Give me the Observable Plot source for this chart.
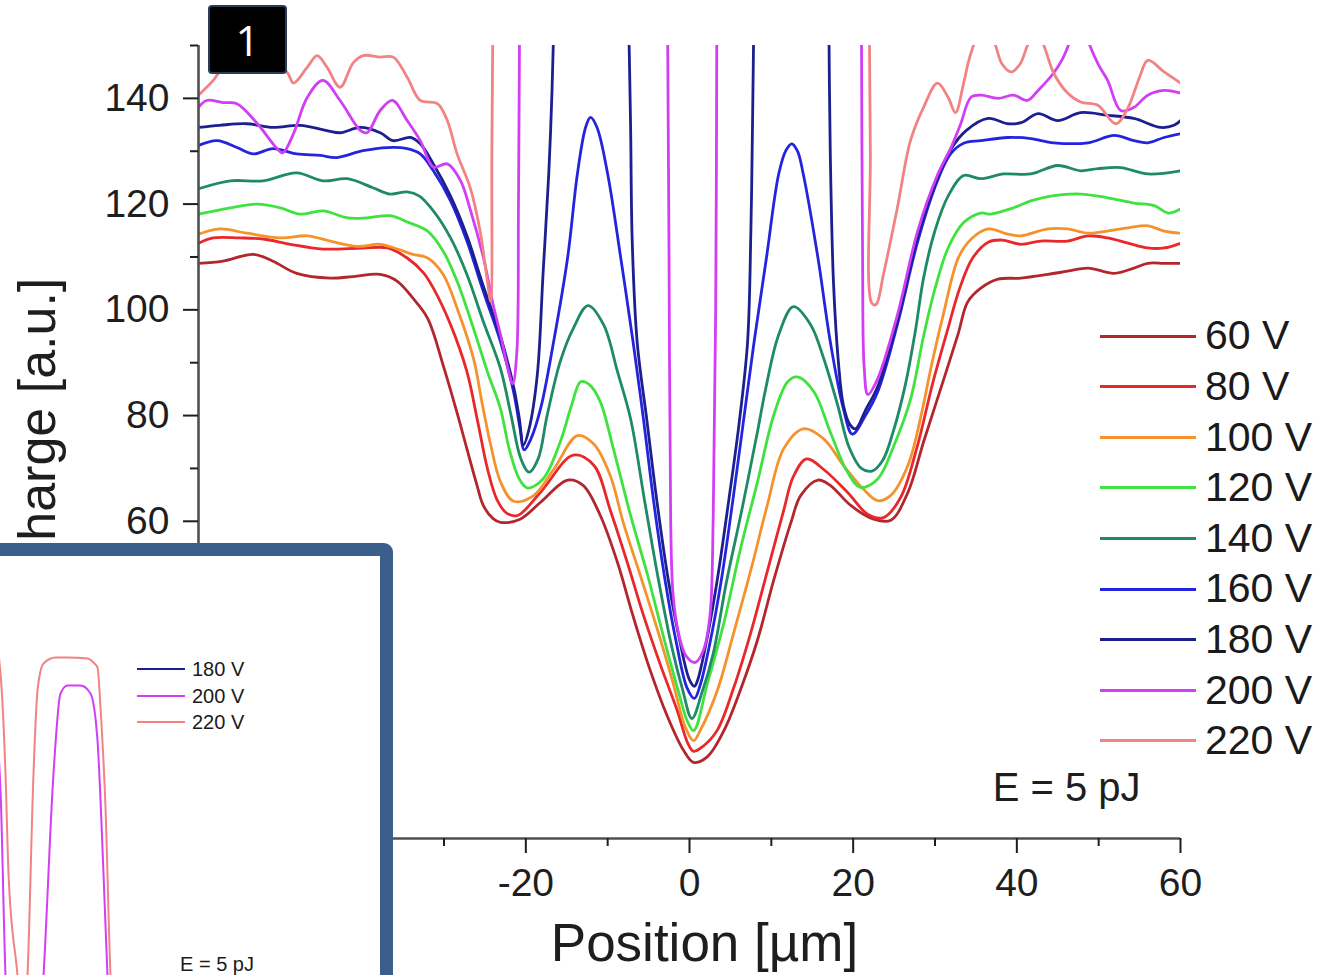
<!DOCTYPE html>
<html>
<head>
<meta charset="utf-8">
<script src="https://cdn.jsdelivr.net/npm/d3@7"></script>
<script src="https://cdn.jsdelivr.net/npm/@observablehq/plot@0.6"></script>
<style>
  html, body { margin: 0; padding: 0; background: #fff; }
  #page { position: relative; width: 1325px; height: 975px; overflow: hidden; font-family: "Liberation Sans", Arial, sans-serif; }
  #main { position: absolute; left: 0; top: 0; }
  #insetBox { position: absolute; left: -20px; top: 543px; width: 413px; height: 470px; box-sizing: border-box; border: 13px solid #3a5f8b; border-radius: 9px; background: #fff; }
  #inset { position: absolute; left: 0; top: 556px; }
  .legLine { position: absolute; }
  .legText { position: absolute; color: #1a1a1a; white-space: nowrap; }
  #badge { position: absolute; left: 208px; top: 5px; width: 79px; height: 69px; box-sizing: border-box; background: #000; border: 2px solid #2a3d58; border-radius: 4px; color: #fff; font-size: 42px; display: flex; align-items: center; justify-content: center; font-family: "Open Sans", "Liberation Sans", sans-serif; }
</style>
</head>
<body>
<div id="page"></div>
<script>
// ---------- DATA ----------
// values above 150 are off the top of the scale; null = not shown (off scale)
const voltages = ["60 V", "80 V", "100 V", "120 V", "140 V", "160 V", "180 V", "200 V", "220 V"];

const s60 = [[-60,108.8],[-57.0,109.2],[-53.3,110.5],[-50.9,109.2],[-48.0,106.9],[-43.9,106.0],[-41.1,106.3],[-37.8,106.7],[-35.7,105.4],[-33.8,102.2],[-32.0,98.4],[-30.1,89.5],[-28.4,80.5],[-27.2,73.7],[-26.0,67],[-25.2,63],[-24.0,60.5],[-23.1,59.8],[-20.7,60.4],[-18.2,63.6],[-14.9,67.8],[-13.0,66.8],[-10.9,61.1],[-8.8,52.2],[-6.9,42.1],[-4.8,31.8],[-2.7,23.1],[-0.7,16.6],[0.5,14.4],[2.2,15.5],[4.2,20.4],[6.2,28],[8.3,37.5],[10.3,48.9],[12.4,59.8],[13.6,64.9],[15.7,67.8],[17.2,66.8],[19.7,63],[22.5,60.4],[24.6,60.2],[26.7,65.5],[28.6,75],[30.7,85.1],[32.8,95.3],[34.0,101.5],[35.6,104.1],[37.7,105.8],[40.5,106],[43.8,106.7],[46.2,107.3],[48.7,107.9],[51.9,106.9],[54.3,107.9],[56.0,108.8],[58.0,108.8],[60,108.8]];

const s80 = [[-60,112.6],[-58.2,113.6],[-55,113.6],[-52.1,113.4],[-48.8,112.4],[-44.8,111.5],[-39.9,111.7],[-36.9,111.7],[-34.5,109.8],[-32.5,107],[-31.3,104.1],[-29.2,97.2],[-27.2,88.3],[-25.9,79],[-24.7,70],[-23.5,64],[-22.3,61.5],[-21.0,61.1],[-18.2,65.5],[-14.2,72.5],[-11.7,70.6],[-9.7,62.2],[-7.6,52.2],[-5.6,42.1],[-3.5,32.6],[-1.5,24.2],[-0.2,18],[0.5,16.5],[1.7,17.5],[3.4,20.5],[5.4,28.5],[7.5,39],[9.5,50.5],[11.5,62],[12.7,68.5],[14.3,71.8],[16.4,69.8],[19.3,65.5],[21.8,61.3],[23.7,60.7],[25.8,64.5],[27.8,74],[29.7,86],[31.5,96],[33.0,104],[34.6,109.8],[36.5,112.8],[38.2,113.2],[40.5,112.4],[42.9,113],[46.2,113],[48.7,114],[51.1,113.6],[53.6,112.6],[56.0,111.7],[58.0,111.7],[60,112.6]];

const s100 = [[-60,114.3],[-57.4,115.3],[-54.1,114.5],[-50.0,113.6],[-46.7,114],[-43.9,113],[-40.6,112],[-37.8,112.4],[-35.7,111.5],[-33.8,110.5],[-32.0,109.8],[-30.1,106.7],[-28.4,100.3],[-26.4,90.8],[-25.3,82],[-24.3,74.5],[-23.1,67.5],[-21.5,63.8],[-19.1,64.8],[-16.6,69.8],[-13.7,76.2],[-11.7,74.6],[-9.7,68.7],[-8.1,59.8],[-6.0,49.7],[-3.9,39.4],[-2.0,29.4],[-0.5,21],[0.5,18.5],[1.3,20.4],[3.4,28],[5.4,38.9],[7.5,50.8],[9.5,63],[11.5,73.7],[13.9,77.5],[16.4,75.6],[18.8,70.6],[21.3,66],[23.0,63.9],[24.6,64.9],[26.7,70.6],[28.3,80],[29.5,89],[31.0,99],[32.9,110],[34.5,113.5],[36.5,115.3],[38.9,114.3],[40.5,114],[43.8,115.3],[46.2,115.3],[48.7,114.5],[51.1,114.9],[53.6,115.5],[56.0,115.9],[58.0,114.9],[60,114.5]];

const s120 = [[-60,118.1],[-56.1,119.3],[-52.8,120],[-50.0,119.3],[-47.6,118.1],[-44.8,118.7],[-41.8,117.4],[-39.4,117.4],[-36.6,117.8],[-34.3,116.5],[-32.0,114.9],[-30.1,111.1],[-28.4,105.4],[-26.4,96.5],[-24.7,88.3],[-23.1,81.3],[-22.0,73.5],[-20.8,68],[-19.8,66.3],[-17.9,68],[-15.8,75],[-14.4,82],[-13.3,86.4],[-12.2,85.8],[-10.9,82.6],[-9.3,73.7],[-7.2,61.1],[-5.1,49.7],[-3.2,38.3],[-1.3,27.5],[-0.3,22.3],[0.5,20.4],[2.2,29.4],[4.2,40.8],[6.2,54.6],[8.3,67.4],[10.3,80.1],[12.0,86.4],[13.2,87.3],[15.2,84.5],[17.2,76.9],[19.3,69.3],[20.9,66.4],[23.0,68],[25.0,74.4],[27.0,83],[28.6,95],[30.0,104],[31.6,111.7],[33.5,116.5],[35.6,118.3],[36.8,118.1],[39.6,119.3],[41.7,120.6],[44.5,121.6],[47.8,121.9],[51.1,121.2],[54.3,120.2],[56.8,119.7],[58.5,118.3],[60,119.1]];

const s140 = [[-60,122.9],[-56.1,124.4],[-52.1,124.4],[-48.0,125.9],[-44.8,124.4],[-41.8,124.8],[-38.7,123.1],[-36.6,121.9],[-34.5,122.3],[-33.0,121.5],[-31.3,118.7],[-29.2,113.6],[-27.2,106.7],[-25.2,97.8],[-23.1,88.9],[-21.8,80],[-20.6,71.8],[-19.6,69.3],[-18.5,71.8],[-17.4,80],[-15.8,90.2],[-14.2,96.5],[-12.4,100.8],[-10.5,97.2],[-8.8,88.3],[-7.2,79.4],[-5.5,64],[-3.8,49],[-2.2,36.5],[-0.9,28.5],[0.3,22.7],[1.5,27.5],[2.9,35],[4.5,48.4],[6.4,62.2],[8.3,76.9],[9.3,85],[10.9,95.3],[12.7,100.6],[14.8,97.2],[16.4,90.8],[18.1,82],[19.5,74],[21.0,70],[22.3,69.5],[23.6,71.5],[24.9,77],[26.4,86],[27.6,96],[28.6,106],[30.0,115],[31.6,121.5],[33.5,125.4],[35.6,124.8],[38.4,125.7],[41.7,125.7],[45.0,127.3],[47.8,126.3],[49.9,126.7],[52.7,126.9],[56.0,125.7],[60,126.3]];

const s160 = [[-60,131.1],[-57.7,132],[-55.3,130.7],[-53.3,129.5],[-50.9,130.5],[-48.0,129.5],[-45.1,129.2],[-43.1,128.8],[-39.9,130.1],[-36.9,130.7],[-34.5,130.5],[-32.9,129.5],[-31.3,126.3],[-29.2,120.6],[-27.2,113],[-25.2,103.5],[-23.1,94],[-21.5,84.5],[-20.7,77.5],[-20.2,73.5],[-19.4,75.5],[-18.2,81.3],[-16.6,94],[-14.9,109.8],[-13.7,125.7],[-12.7,134.5],[-12.1,136.4],[-11.3,134.5],[-10.0,125.7],[-8.4,109.8],[-6.9,94],[-5.6,79],[-4.4,64],[-3.0,49],[-1.6,37],[-0.3,28.5],[0.6,26.5],[1.3,29],[2.5,37],[3.9,49],[5.3,64],[6.6,79],[7.9,94],[9.4,109.8],[10.9,125.7],[11.8,130.2],[12.5,131.4],[13.2,130],[13.9,125.7],[15.7,109.8],[17.2,94],[18.8,81.3],[19.9,76.5],[21.5,80],[23.0,84.5],[25.4,97.2],[27.9,113],[30.3,124.4],[31.9,129.5],[33.5,131.5],[35.6,132],[38.9,132.6],[41.7,132.4],[44.5,131.6],[48.7,131.6],[51.9,133],[54.3,132],[56.0,131.6],[58.0,132.6],[60,133.3]];

const s180 = [[-60,134.5],[-57.4,134.9],[-54.1,135.2],[-50.9,134.5],[-47.6,134.9],[-44.3,133.9],[-42.7,133.5],[-40.2,134.5],[-37.8,133.5],[-36.2,132],[-34.1,132.6],[-32.9,131.4],[-31.3,127.6],[-29.2,121.5],[-27.2,114],[-25.2,104.5],[-23.1,95],[-21.5,85.5],[-20.8,79.5],[-20.3,74.4],[-19.6,77.5],[-18.6,87.7],[-17.9,106.7],[-17.2,125.7],[-16.8,141.5],[-16.5,160],[-12,null],[-7.5,160],[-7.2,135],[-7.0,113],[-6.4,94],[-5.2,79],[-4.0,64],[-2.6,49],[-1.2,37.5],[0.0,30],[0.6,28.8],[1.0,30],[2.1,37.5],[3.4,49],[4.8,64],[6.1,79],[7.1,94],[7.5,115],[7.7,135],[7.9,160],[12,null],[17.0,160],[17.2,130],[17.6,105],[18.2,90],[18.8,82],[19.6,78.3],[20.3,77.5],[21.5,81],[23.0,85.5],[25.4,98],[27.9,114],[30.3,125],[31.9,130.3],[33.8,133.9],[36.5,136.2],[38.9,135.2],[40.5,135.4],[42.6,137.1],[45.0,135.8],[47.8,137.3],[51.1,136.8],[54.3,136.2],[57.6,134.5],[59.2,134.9],[60,135.8]];

const s200 = [[-60,138.3],[-59.0,139.6],[-57.0,139.2],[-55.3,139],[-52.8,135.2],[-50.4,130.5],[-49.7,129.7],[-48.4,133.3],[-46.7,140.2],[-44.8,143.4],[-42.7,139.6],[-40.2,133.9],[-39.4,133.5],[-37.8,137.7],[-36.3,139.6],[-34.5,135.8],[-32.9,132],[-31.3,127],[-29.6,127.6],[-28.0,124.5],[-26.8,119],[-25.2,110],[-24.0,101],[-23.1,95.3],[-22.2,89],[-21.6,86],[-21.1,92],[-20.9,120],[-20.75,160],[-12,null],[-2.7,160],[-2.5,110],[-2.3,60],[-2.0,46],[-1.3,38.5],[-0.4,34.5],[0.7,33.3],[1.7,35.6],[2.5,42.1],[2.9,61],[3.2,100],[3.35,160],[12,null],[21.0,160],[21.15,110],[21.35,89],[21.8,84],[23.0,87],[25.4,99],[27.9,115],[30.3,125.5],[31.9,130.5],[33.1,135],[34.4,140.2],[35.6,140.6],[37.7,140],[39.6,140.6],[41.3,139.6],[42.6,141.5],[44.5,144.8],[45.6,147.5],[46.4,150.5],[47.6,157],[48.8,150.5],[50.0,146.3],[51.1,143.4],[52.7,137.7],[54.3,138.3],[56.0,140.6],[58.0,141.5],[60,141]];

const s220 = [[-60,140.6],[-58.2,143.4],[-57.0,145.9],[-55,148],[-52,147.5],[-49.2,145],[-48.4,142.9],[-46.7,145.9],[-45.5,148.1],[-44.3,145.9],[-42.7,142.1],[-41.1,146.7],[-39.9,148.1],[-37.8,147.8],[-36.2,147.8],[-34.5,144],[-32.9,139.6],[-30.8,139],[-29.6,135.8],[-28.4,129.5],[-26.8,123.1],[-25.6,115],[-24.7,105.5],[-24.3,101.6],[-24.15,130],[-24.0,160],[0,null],[21.95,160],[22.1,130],[22.3,101.2],[22.8,101],[23.7,106.7],[25.4,119.3],[27.0,132],[28.6,138.3],[30.3,142.9],[31.6,140.2],[32.5,137.3],[33.5,142.9],[34.1,147],[34.7,150],[36.0,156],[37.4,150],[38.2,146.5],[39.3,145],[40.4,146.5],[41.3,150],[42.3,153],[43.3,150],[44.5,144.8],[46.2,141],[47.8,139.3],[49.9,138.7],[52.1,135.2],[53.6,138.3],[55.0,144],[56.0,147.2],[58.0,145],[60,142.9]];

const series = [s60, s80, s100, s120, s140, s160, s180, s200, s220];

// inset (zoomed-out view, its own arbitrary units)
const insetVoltages = ["180 V", "200 V", "220 V"];
const inset200 = [[-1.0,30],[0,18.5],[0.5,0],[0.9,-6],[3.9,-6],[4.3,0],[5.3,20.2],[6.0,28.2],[6.7,29],[8.0,29],[9.0,28.2],[9.7,23.5],[10.3,10.2],[10.7,0],[11.0,-6]];
const inset220 = [[-1.0,36],[0,30.2],[0.5,20.2],[0.8,10.2],[1.7,0],[2.2,-6],[2.7,0],[3.3,20.2],[3.7,28.5],[4.3,31.2],[5.5,31.8],[6.7,31.8],[8.7,31.7],[9.3,31.3],[9.7,30.8],[10.0,26.8],[10.5,16.8],[11.0,0],[11.5,-6]];

// ticks & labels
const xMajor = [-60, -40, -20, 0, 20, 40, 60];
const xMinor = [-50, -30, -10, 10, 30, 50];
const yMajor = [0, 20, 40, 60, 80, 100, 120, 140];
const yMinor = [10, 30, 50, 70, 90, 110, 130, 150];
const xLabel = "Position [µm]";
const yLabel = "Charge [a.u.]";
const energyLabel = "E = 5 pJ";
const panelLabel = "1";

// ---------- STYLE ----------
const colors = ["#b3262b", "#e8282a", "#f6922c", "#3fe23f", "#1f8a66", "#2424de", "#1b1f8f", "#d23df6", "#f28383"];
const insetColors = ["#1b1f8f", "#d23df6", "#f28383"];
const FONT = "'Liberation Sans', Arial, Helvetica, sans-serif";

const rows = voltages.flatMap((v, i) => series[i].map(([x, y]) => ({series: v, x, y})));

const main = Plot.plot({
  width: 1325,
  height: 975,
  marginLeft: 198,
  marginRight: 145,
  marginTop: 45,
  marginBottom: 137,
  x: {domain: [-60, 60]},
  y: {domain: [0, 150]},
  color: {domain: voltages, range: colors},
  style: {fontFamily: FONT, background: "white", overflow: "visible"},
  marks: [
    Plot.line(rows, {x: "x", y: "y", z: "series", stroke: "series", strokeWidth: 2.8, curve: "catmull-rom", clip: true}),
    Plot.ruleY([0], {stroke: "#505050", strokeWidth: 2.6}),
    Plot.ruleX([-60], {stroke: "#505050", strokeWidth: 2.6}),
    Plot.axisX({ticks: xMajor, tickSize: 15, tickPadding: 15, fontSize: 39, tickFormat: d => String(d), label: null, color: "#1e1e1e", strokeWidth: 2}),
    Plot.axisX({ticks: xMinor, tickSize: 8, tickFormat: () => "", label: null, color: "#1e1e1e", strokeWidth: 2}),
    Plot.axisY({ticks: yMajor, tickSize: 15, tickPadding: 14, fontSize: 39, tickFormat: d => String(d), label: null, color: "#1e1e1e", strokeWidth: 2}),
    Plot.axisY({ticks: yMinor, tickSize: 8, tickFormat: () => "", label: null, color: "#1e1e1e", strokeWidth: 2}),
    Plot.text([yLabel], {text: d => d, frameAnchor: "left", textAnchor: "middle", lineAnchor: "middle", rotate: -90, dx: -160, dy: -14, fontSize: 52, fill: "#1e1e1e"}),
    Plot.text([xLabel], {text: d => d, frameAnchor: "bottom", textAnchor: "middle", lineAnchor: "middle", dx: 15, dy: 106, fontSize: 53, fill: "#1e1e1e"}),
    Plot.text([energyLabel], {text: d => d, frameAnchor: "bottom-right", textAnchor: "end", lineAnchor: "middle", dx: -40, dy: -50, fontSize: 40, fill: "#1e1e1e"})
  ]
});
main.id = "main";

const insetRows = [
  ...inset200.map(([x, y]) => ({series: "200 V", x, y})),
  ...inset220.map(([x, y]) => ({series: "220 V", x, y}))
];
const inset = Plot.plot({
  width: 381,
  height: 419,
  margin: 0,
  x: {domain: [0, 38.1], axis: null},
  y: {domain: [0, 41.9], axis: null},
  color: {domain: insetVoltages, range: insetColors},
  style: {background: "transparent", fontFamily: FONT},
  marks: [
    Plot.line(insetRows, {x: "x", y: "y", z: "series", stroke: "series", strokeWidth: 2, curve: "monotone-x", clip: true})
  ]
});
inset.id = "inset";

const page = document.getElementById("page");
page.appendChild(main);
const box = document.createElement("div");
box.id = "insetBox";
page.appendChild(box);
page.appendChild(inset);

function addLegend(labels, cols, x0, lineW, y0, step, textX, fontSize, lineH) {
  labels.forEach((lab, i) => {
    const y = y0 + i * step;
    const ln = document.createElement("div");
    ln.className = "legLine";
    Object.assign(ln.style, {left: x0 + "px", top: (y - lineH / 2) + "px", width: lineW + "px", height: lineH + "px", background: cols[i]});
    page.appendChild(ln);
    const tx = document.createElement("div");
    tx.className = "legText";
    tx.textContent = lab;
    Object.assign(tx.style, {left: textX + "px", top: (y - fontSize * 0.6) + "px", fontSize: fontSize + "px", lineHeight: (fontSize * 1.2) + "px"});
    page.appendChild(tx);
  });
}
addLegend(voltages, colors, 1100, 96, 336, 50.6, 1205, 41, 3);
addLegend(insetVoltages, insetColors, 137, 48, 669, 26.5, 192, 20, 2);

const eIn = document.createElement("div");
eIn.className = "legText";
eIn.textContent = energyLabel;
Object.assign(eIn.style, {left: "180px", top: "952px", fontSize: "20px", lineHeight: "24px"});
page.appendChild(eIn);

const badge = document.createElement("div");
badge.id = "badge";
badge.textContent = panelLabel;
page.appendChild(badge);
</script>
</body>
</html>
